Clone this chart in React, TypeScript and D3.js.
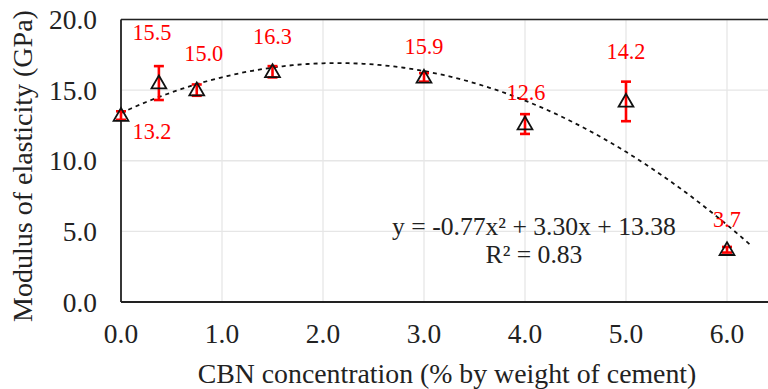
import React, { useLayoutEffect, useRef, useState } from "react";
import * as d3 from "d3";

// CBN dosage (% by weight of cement) and measured modulus of elasticity (GPa)
const concentration = [0, 0.375, 0.75, 1.5, 3, 4, 5, 6];
const modulus = [13.2, 15.5, 15.0, 16.3, 15.9, 12.6, 14.2, 3.7];
const errorHalf = [0.3, 1.2, 0.4, 0.4, 0.3, 0.7, 1.4, 0.2];
const labelText = ["13.2", "15.5", "15.0", "16.3", "15.9", "12.6", "14.2", "3.7"];

const xTicks = [0, 1, 2, 3, 4, 5, 6];
const yTicks = [0, 5, 10, 15, 20];

// quadratic fit coefficients: y = a x^2 + b x + c
const fitCoef = { a: -0.77, b: 3.3, c: 13.38 };
const fitRange = [0, 6.25];
const equationText = "y = -0.77x² + 3.30x + 13.38";
const r2Text = "R² = 0.83";
const xTitle = "CBN concentration (% by weight of cement)";
const yTitle = "Modulus of elasticity (GPa)";

// label placement relative to the point (dx, baseline dy)
const labelOffsets: [number, number][] = [
  [31, 23],
  [-7, -43],
  [7, -29],
  [0, -28],
  [0, -23],
  [1, -24],
  [0, -42],
  [0, -23],
];

// text roles: sample string and the width it should occupy
const textRoles = {
  tick: { sample: "20.0", width: 48, fallback: 26 },
  label: { sample: "15.5", width: 39, fallback: 21 },
  eq: { sample: equationText, width: 284, fallback: 24 },
  xTitle: { sample: xTitle, width: 499, fallback: 27 },
  yTitle: { sample: yTitle, width: 312, fallback: 27 },
};
type Role = keyof typeof textRoles;
const roleKeys = Object.keys(textRoles) as Role[];

const W = 768;
const H = 389;
const font = "'Times New Roman', 'Liberation Serif', serif";

export default function App() {
  const x = d3.scaleLinear().domain([0, 6.5]).range([121, 777.5]);
  const y = d3.scaleLinear().domain([0, 20]).range([302, 19.5]);

  const measureRefs = useRef<Record<string, SVGTextElement | null>>({});
  const [fs, setFs] = useState<Record<Role, number>>(() => {
    const o = {} as Record<Role, number>;
    roleKeys.forEach((k) => (o[k] = textRoles[k].fallback));
    return o;
  });

  // scale each text role so that its sample string has the intended width
  useLayoutEffect(() => {
    const o = {} as Record<Role, number>;
    roleKeys.forEach((k) => {
      const el = measureRefs.current[k];
      const len = el ? el.getComputedTextLength() : 0;
      o[k] = len > 0 ? (100 * textRoles[k].width) / len : textRoles[k].fallback;
    });
    setFs(o);
  }, []);

  const fitPts = d3.range(fitRange[0], fitRange[1] + 1e-9, 0.05).map((v) => [
    v,
    fitCoef.a * v * v + fitCoef.b * v + fitCoef.c,
  ]);
  const fitLine = d3
    .line<number[]>()
    .x((d) => x(d[0]))
    .y((d) => y(d[1]))(fitPts) as string;

  const tri = d3.symbol().type(d3.symbolTriangle).size(95)() as string;

  return (
    <svg
      width={W}
      height={H}
      style={{ position: "absolute", left: 0, top: 0, background: "#fff", fontFamily: font }}
    >
      {/* measurement samples */}
      <g visibility="hidden">
        {roleKeys.map((k) => (
          <text
            key={"m" + k}
            ref={(el) => {
              measureRefs.current[k] = el;
            }}
            x={0}
            y={-200}
            fontSize={100}
          >
            {textRoles[k].sample}
          </text>
        ))}
      </g>

      {/* gridlines */}
      {yTicks.map((t) => (
        <line key={"gy" + t} x1={x(0)} x2={W} y1={y(t)} y2={y(t)} stroke="#e6e6e6" strokeWidth={1.3} />
      ))}
      {xTicks.map((t) => (
        <line key={"gx" + t} x1={x(t)} x2={x(t)} y1={y(20)} y2={y(0)} stroke="#e6e6e6" strokeWidth={1.3} />
      ))}

      {/* plot frame */}
      <line x1={x(0)} x2={W} y1={y(20)} y2={y(20)} stroke="#222" strokeWidth={1.6} />
      <line x1={x(0)} x2={W} y1={y(0)} y2={y(0)} stroke="#222" strokeWidth={1.8} />
      <line x1={x(0)} x2={x(0)} y1={y(20)} y2={y(0)} stroke="#222" strokeWidth={1.8} />

      {/* tick labels */}
      {yTicks.map((t) => (
        <text key={"ty" + t} x={97} y={y(t)} dy="0.35em" textAnchor="end" fontSize={fs.tick} fill="#222">
          {t.toFixed(1)}
        </text>
      ))}
      {xTicks.map((t) => (
        <text key={"tx" + t} x={x(t)} y={343} textAnchor="middle" fontSize={fs.tick} fill="#222">
          {t.toFixed(1)}
        </text>
      ))}

      {/* axis titles */}
      <text x={447} y={383} textAnchor="middle" fontSize={fs.xTitle} fill="#222">
        {xTitle}
      </text>
      <text
        transform={`translate(32,166) rotate(-90)`}
        textAnchor="middle"
        fontSize={fs.yTitle}
        fill="#222"
      >
        {yTitle}
      </text>

      {/* polynomial trend */}
      <path d={fitLine} fill="none" stroke="#111" strokeWidth={1.8} strokeDasharray="4 4" />

      {/* error bars */}
      {concentration.map((c, i) => {
        const cx = x(c);
        const y1 = y(modulus[i] + errorHalf[i]);
        const y2 = y(modulus[i] - errorHalf[i]);
        return (
          <g key={"e" + i} stroke="#ff0000" strokeWidth={2.6}>
            <line x1={cx} x2={cx} y1={y1} y2={y2} />
            <line x1={cx - 5} x2={cx + 5} y1={y1} y2={y1} />
            <line x1={cx - 5} x2={cx + 5} y1={y2} y2={y2} />
          </g>
        );
      })}

      {/* markers */}
      {concentration.map((c, i) => (
        <path
          key={"m" + i}
          d={tri}
          transform={`translate(${x(c)},${y(modulus[i]) + 1})`}
          fill="none"
          stroke="#111"
          strokeWidth={1.8}
        />
      ))}

      {/* value labels */}
      {concentration.map((c, i) => (
        <text
          key={"l" + i}
          x={x(c) + labelOffsets[i][0]}
          y={y(modulus[i]) + labelOffsets[i][1]}
          textAnchor="middle"
          fontSize={fs.label}
          fill="#ff0000"
        >
          {labelText[i]}
        </text>
      ))}

      {/* equation */}
      <text x={534} y={235} textAnchor="middle" fontSize={fs.eq} fill="#222">
        {equationText}
      </text>
      <text x={534} y={263} textAnchor="middle" fontSize={fs.eq} fill="#222">
        {r2Text}
      </text>
    </svg>
  );
}
